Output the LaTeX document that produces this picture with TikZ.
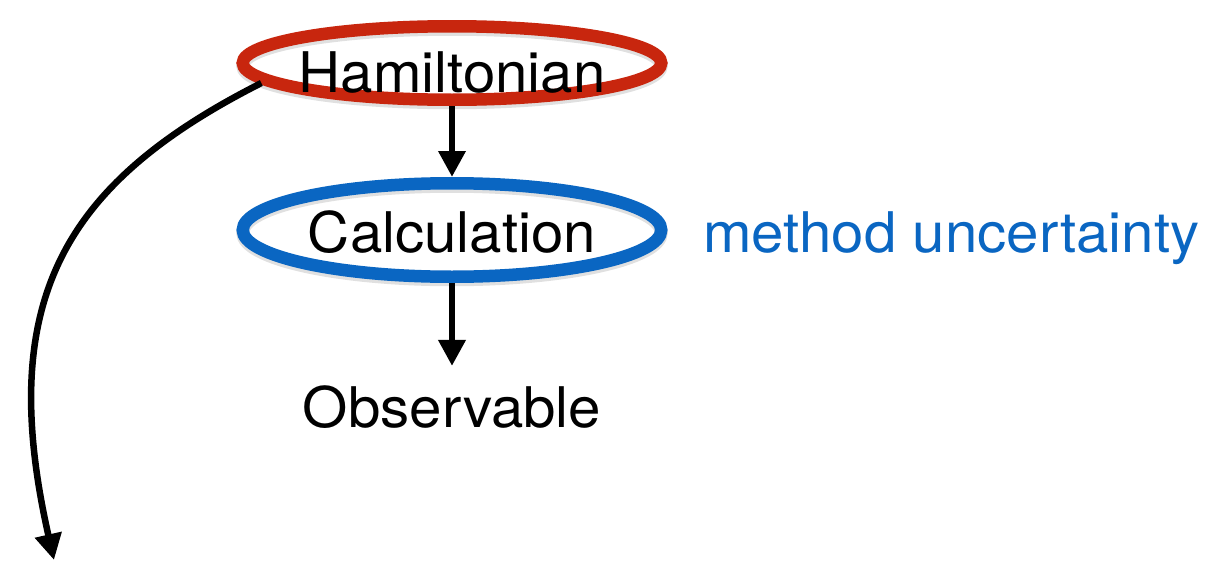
\documentclass[tikz,border=0pt]{standalone}
\usepackage{fontspec}
\setmainfont{TeX Gyre Heros}[FakeStretch=1.04]
\usetikzlibrary{shapes.geometric,arrows.meta}
\definecolor{hred}{RGB}{200,38,14}
\definecolor{cblue}{RGB}{10,102,194}
\newcommand\ringtext[2]{\makebox[0pt]{\raisebox{-#1}[0pt][0pt]{#2}}}
\begin{document}
\begin{tikzpicture}[x=1pt,y=-1pt,
  big/.style={font=\fontsize{56pt}{60pt}\selectfont},
  ring/.style={big, ellipse, draw=#1, line width=12.5pt, inner sep=0pt,
    minimum width=418.5pt,
    preaction={draw=black, draw opacity=0.12, line width=13pt, transform canvas={yshift=-3pt}}},
  arr/.style={line width=6.5pt, -{Triangle[length=26pt,width=26pt]}}]
\useasboundingbox (0,0) rectangle (1218,562);
\node[ring=hred, minimum height=73.5pt] (ham) at (452,63) {\ringtext{29pt}{Hamiltonian}};
\node[ring=cblue, minimum height=93.5pt] (calc) at (452,230) {\ringtext{22pt}{Calculation}};
\node[big, anchor=base, inner ysep=19pt, inner xsep=0pt] (obs) at (452,427) {Observable};
\node[big, text=cblue, anchor=base west, inner sep=0pt] (mu) at (703,252) {method uncertainty};
\coordinate (tip) at (54,560);
\draw[arr] (ham.south) -- (calc.north);
\draw[arr] (calc.south) -- (obs.north);
\draw[arr] (ham.186) .. controls (64,183) and (-5,300) .. (tip);
\end{tikzpicture}
\end{document}
